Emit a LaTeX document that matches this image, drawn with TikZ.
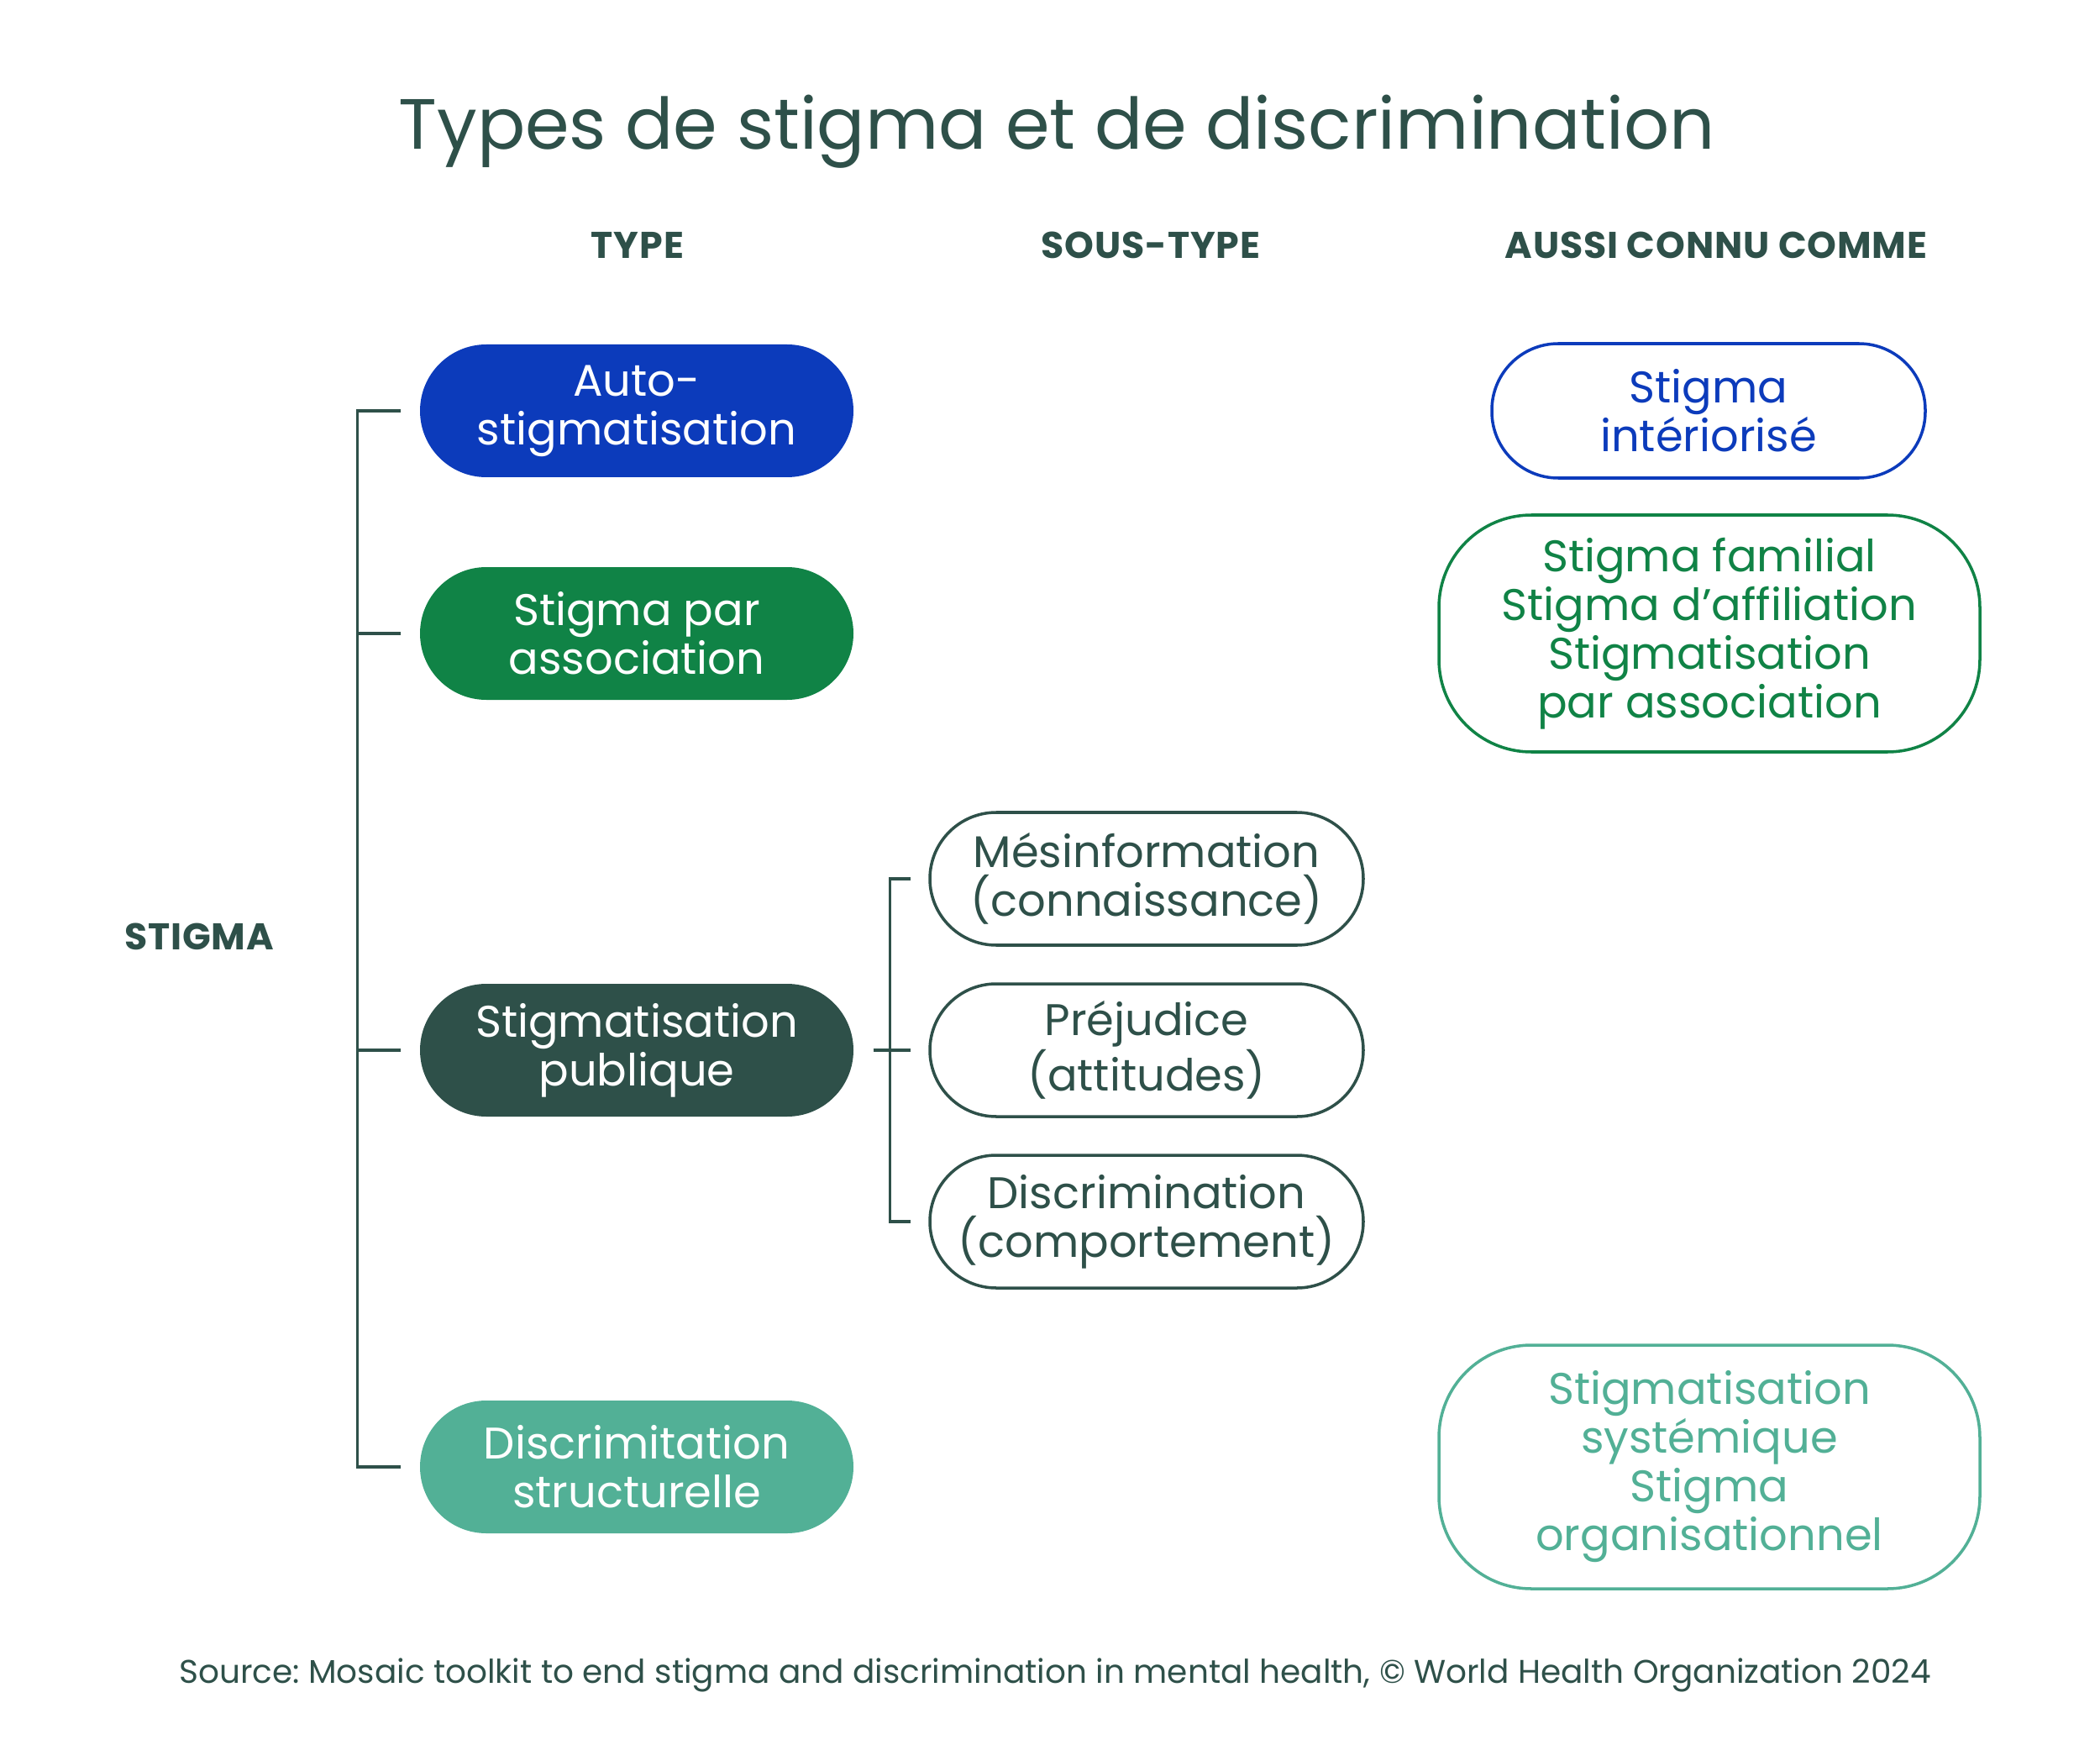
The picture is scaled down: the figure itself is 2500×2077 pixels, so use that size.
\documentclass[tikz,border=0pt]{standalone}
\usepackage{fontspec}
\setmainfont{Poppins}
\usetikzlibrary{positioning}

\definecolor{dkgreen}{HTML}{2E5049}
\definecolor{stblue}{HTML}{0C3BBB}
\definecolor{stgreen}{HTML}{108346}
\definecolor{stteal}{HTML}{52B096}

\newcommand{\boxfont}{\fontsize{15}{16.5}\selectfont}
\newcommand{\headfont}{\fontsize{12.6}{14}\selectfont\bfseries\addfontfeatures{LetterSpace=2}}

\tikzset{
	pill/.style={rectangle, rounded corners=7.9mm, minimum width=51.6mm,
		minimum height=15.8mm, align=center, font=\boxfont, inner sep=0pt},
	typebox/.style={pill, fill=#1, text=white},
	subbox/.style={pill, draw=dkgreen, line width=1pt, text=dkgreen},
	akabox/.style={pill, draw=#1, text=#1, line width=1pt},
	bigaka/.style={akabox=#1, rounded corners=11mm, minimum width=64.4mm},
	header/.style={font=\headfont, text=dkgreen, anchor=base},
	bracket/.style={draw=dkgreen, line width=0.9pt},
}

\begin{document}
\frenchspacing
\begin{tikzpicture}[x=0.1mm, y=-0.1mm]

		\useasboundingbox (0,0) rectangle (2500,2077);

		\node[anchor=base, text=dkgreen, font=\fontsize{24.1}{28}\selectfont] (title)
			at (1258,178) {Types de stigma et de discrimination};

		\node[header] (htype) at (759,308) {TYPE};
		\node[header] (hsub) at (1370,308) {SOUS-TYPE};
		\node[header] (haka) at (2043,308) {AUSSI CONNU COMME};
		\node[header] (stigma) at (237,1130) {STIGMA};


		\node[typebox=stblue] (auto) at (758,489) {Auto-\\stigmatisation};
		\node[typebox=stgreen] (assoc) at (758,754) {Stigma par\\association};
		\node[typebox=dkgreen] (public) at (758,1250) {Stigmatisation\\publique};
		\node[typebox=stteal] (struct) at (758,1746) {Discrimitation\\structurelle};


		\node[subbox] (misinfo) at (1365,1046) {Mésinformation\\(connaissance)};
		\node[subbox] (prejud) at (1365,1250) {Préjudice\\(attitudes)};
		\node[subbox] (discr) at (1365,1454) {Discrimination\\(comportement)};


		\node[akabox=stblue, minimum height=16mm] (interior) at (2034,489)
			{Stigma\\intériorisé};
		\node[bigaka=stgreen, minimum height=28.2mm] (family) at (2035,754)
			{Stigma familial\\Stigma d’affiliation\\Stigmatisation\\par association};
		\node[bigaka=stteal, minimum height=29mm] (system) at (2035,1746)
			{Stigmatisation\\systémique\\Stigma\\organisationnel};


		\draw[bracket] ([xshift=-2.2mm]auto.west) -- ++(-52,0)
			|- ([xshift=-2.2mm]struct.west);
		\draw[bracket] ([xshift=-2.2mm]assoc.west) -- ++(-52,0);
		\draw[bracket] ([xshift=-2.2mm]public.west) -- ++(-52,0);

		\draw[bracket] ([xshift=2.3mm]public.east) -- ++(24,0);
		\draw[bracket] ([xshift=-2.1mm]misinfo.west) -- ++(-25,0)
			|- ([xshift=-2.1mm]discr.west);
		\draw[bracket] ([xshift=-2.1mm]prejud.west) -- ++(-25,0);


		\node[anchor=base, text=dkgreen, font=\fontsize{11.1}{13}\selectfont] (source)
			at (1256,2003) {Source: Mosaic toolkit to end stigma and discrimination
			in mental health, © World Health Organization 2024};
	\end{tikzpicture}
\end{document}
